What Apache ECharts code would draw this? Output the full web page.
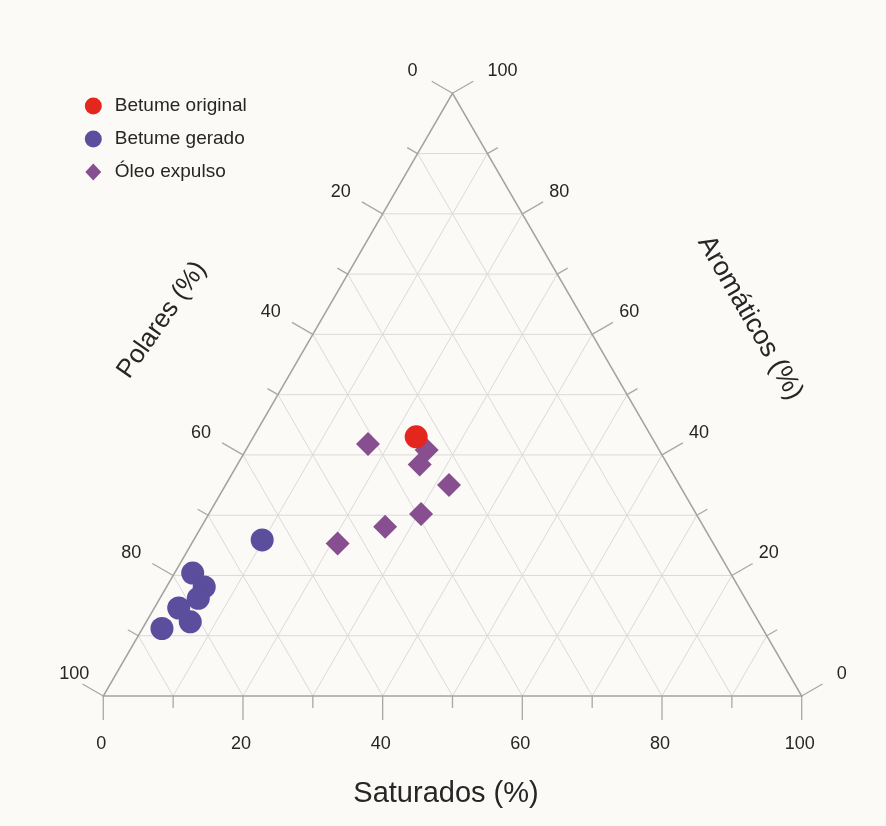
<!DOCTYPE html>
<html><head><meta charset="utf-8">
<script src="https://cdn.jsdelivr.net/npm/echarts@6/dist/echarts.min.js"></script>
<style>html,body{margin:0;padding:0;background:#fcfaf7;} #c{width:886px;height:826px;}</style>
</head><body><div id="c"></div>
<script>
// Tick values (percent) and labelled ticks
const tickValues = [0, 10, 20, 30, 40, 50, 60, 70, 80, 90, 100];
const labelValues = [0, 20, 40, 60, 80, 100];
const axisTitles = ['Saturados (%)', 'Polares (%)', 'Aromáticos (%)'];
const seriesNames = ['Betume original', 'Betume gerado', 'Óleo expulso'];

// Betume original: Saturados / Aromáticos / Polares (%)
const originalSat = [23.3];
const originalAro = [43.0];
const originalPol = [33.7];
// Betume gerado
const geradoSat = [9.8, 2.6, 5.4, 5.5, 3.5, 6.3, 2.8];
const geradoAro = [25.9, 20.4, 18.1, 16.2, 14.6, 12.3, 11.2];
const geradoPol = [64.3, 77.0, 76.5, 78.3, 81.9, 81.4, 86.0];
// Óleo expulso
const oleoSat = [17.0, 25.9, 26.1, 32.0, 30.4, 26.3, 20.9];
const oleoAro = [41.8, 40.8, 38.4, 35.0, 30.2, 28.1, 25.3];
const oleoPol = [41.2, 33.3, 35.5, 33.0, 39.4, 45.6, 53.8];

// ternary -> cartesian (x: Saturados + Aromáticos/2, y: Aromáticos)
function toXY(sat, aro, pol) {
  return sat.map((s, i) => {
    const tot = s + aro[i] + pol[i];
    const S = s / tot * 100, A = aro[i] / tot * 100;
    return [S + A / 2, A];
  });
}

const FONT = '"Liberation Sans", Arial, Helvetica, sans-serif';
const TXT = '#262626';
const C30 = Math.cos(Math.PI / 6), S30 = 0.5;

function seg(p, q, style) {
  return { type: 'line', shape: { x1: p[0], y1: p[1], x2: q[0], y2: q[1] }, style: style };
}

function gridItem(params, api) {
  const t = api.value(0);
  const children = [];
  const st = { stroke: '#dadada', lineWidth: 1 };
  if (t > 0 && t < 100) {
    children.push(seg(api.coord([t / 2, t]), api.coord([100 - t / 2, t]), st));
    children.push(seg(api.coord([t, 0]), api.coord([t + (100 - t) / 2, 100 - t]), st));
    children.push(seg(api.coord([100 - t, 0]), api.coord([(100 - t) / 2, 100 - t]), st));
  }
  return { type: 'group', children: children };
}

function frameItem(params, api) {
  const a = api.coord([0, 0]), b = api.coord([100, 0]), c = api.coord([50, 100]);
  return { type: 'polygon', shape: { points: [a, b, c] }, style: { fill: 'none', stroke: '#a3a3a3', lineWidth: 1.5 } };
}

function tickItem(params, api) {
  const t = api.value(0);
  const major = labelValues.indexOf(t) >= 0;
  const len = major ? 24 : 12;
  const st = { stroke: '#a8a8a8', lineWidth: 1.3 };
  const b = api.coord([t, 0]);
  const l = api.coord([(100 - t) / 2, 100 - t]);
  const r = api.coord([100 - t / 2, t]);
  const children = [
    seg(b, [b[0], b[1] + len], st),
    seg(l, [l[0] - C30 * len, l[1] - S30 * len], st),
    seg(r, [r[0] + C30 * len, r[1] - S30 * len], st)
  ];
  if (major) {
    const ts = { text: String(t), fontSize: 18, fontFamily: FONT, fill: TXT, align: 'center', verticalAlign: 'middle' };
    const dxL = t === 100 ? -29 : (t === 0 ? -40 : -42);
    const dxR = t === 100 ? 50 : (t === 0 ? 40 : 37);
    children.push({ type: 'text', x: b[0] - 2, y: b[1] + 48, style: Object.assign({}, ts) });
    children.push({ type: 'text', x: l[0] + dxL, y: l[1] - 22, style: Object.assign({}, ts) });
    children.push({ type: 'text', x: r[0] + dxR, y: r[1] - 22, style: Object.assign({}, ts) });
  }
  return { type: 'group', children: children };
}

const chart = echarts.init(document.getElementById('c'), null, { renderer: 'canvas' });
chart.setOption({
  backgroundColor: '#fcfaf7',
  animation: false,
  grid: { left: 103.3, top: 93.3, width: 698.4, height: 602.7 },
  xAxis: { type: 'value', min: 0, max: 100, show: false },
  yAxis: { type: 'value', min: 0, max: 100, show: false },
  legend: {
    orient: 'vertical', left: 84.8, top: 96.5, padding: 0,
    itemWidth: 25, itemHeight: 17, itemGap: 14,
    data: [
      { name: seriesNames[0], icon: 'circle' },
      { name: seriesNames[1], icon: 'circle' },
      { name: seriesNames[2], icon: 'path://M7.5,0L15,8L7.5,16L0,8Z' }
    ],
    textStyle: { fontSize: 19, fontFamily: FONT, color: TXT, lineHeight: 17, padding: [0, 0, 0, 4] }
  },
  graphic: [
    { type: 'text', x: 446, y: 794, style: { text: axisTitles[0], fontSize: 29, fontFamily: FONT, fill: TXT, align: 'center', verticalAlign: 'middle' } },
    { type: 'text', x: 162, y: 320, rotation: 55 * Math.PI / 180, style: { text: axisTitles[1], fontSize: 26, fontFamily: FONT, fill: TXT, align: 'center', verticalAlign: 'middle' } },
    { type: 'text', x: 750, y: 318, rotation: -Math.PI / 3, style: { text: axisTitles[2], fontSize: 27, fontFamily: FONT, fill: TXT, align: 'center', verticalAlign: 'middle' } }
  ],
  series: [
    { type: 'custom', silent: true, z: 1, renderItem: gridItem, data: tickValues.map(v => [v, 0]) },
    { type: 'custom', silent: true, z: 2, renderItem: frameItem, data: [[0, 0]] },
    { type: 'custom', silent: true, z: 2, renderItem: tickItem, data: tickValues.map(v => [v, 0]) },
    { name: seriesNames[1], type: 'scatter', z: 3, symbol: 'circle', symbolSize: 23, itemStyle: { color: '#5a4e9d', opacity: 1 }, data: toXY(geradoSat, geradoAro, geradoPol) },
    { name: seriesNames[2], type: 'scatter', z: 4, symbol: 'diamond', symbolSize: 24, itemStyle: { color: '#874f8f', opacity: 1 }, data: toXY(oleoSat, oleoAro, oleoPol) },
    { name: seriesNames[0], type: 'scatter', z: 5, symbol: 'circle', symbolSize: 23, itemStyle: { color: '#e3271f', opacity: 1 }, data: toXY(originalSat, originalAro, originalPol) }
  ]
});
</script>
</body></html>
